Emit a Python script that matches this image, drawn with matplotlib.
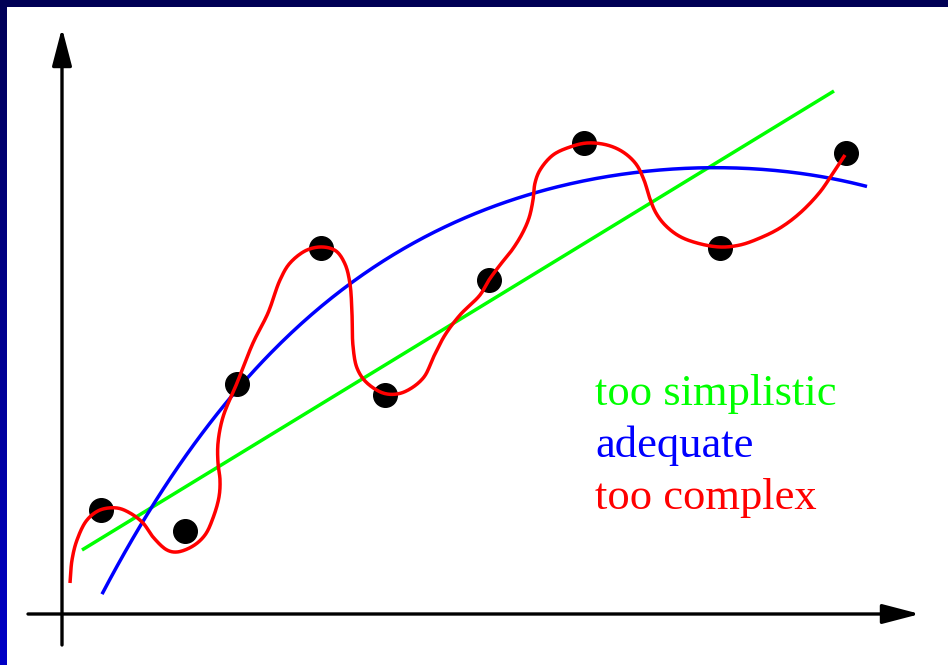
import numpy as np
import matplotlib.pyplot as plt
from matplotlib.patches import Rectangle

# observations (x to the right of the origin, y above it)
obs_x = [39, 123, 175, 259, 323, 427, 522, 658, 784]
obs_y = [104, 83, 230, 366, 219, 334, 471, 366, 461]

# too simplistic: straight line
lin_x = [20, 772]
lin_y = [64, 523]

# adequate: smooth curve
adq_x = [40, 78, 108, 118, 175, 238, 298, 348, 458, 525, 578, 641, 678, 758, 805]
adq_y = [20, 87, 134, 149, 231, 287, 334, 369, 416, 436, 444, 446, 444, 436, 429]

# too complex: wiggly curve through every observation
cpx_x = [8, 10, 15, 25, 38, 55, 68, 81, 91, 105, 115, 131, 143, 151, 157, 158,
         156, 156, 161, 175, 191, 206, 218, 228, 245, 261, 274, 283, 288, 290,
         291, 295, 304, 321, 335, 348, 362, 372, 383, 398, 418, 427, 438, 450,
         460, 467, 471, 473, 478, 491, 508, 525, 545, 561, 574, 582, 588, 594,
         603, 617, 635, 658, 678, 698, 718, 738, 758, 771, 783]
cpx_y = [31, 54, 74, 94, 104, 106, 101, 91, 77, 64, 62, 68, 79, 96, 117, 134,
         151, 171, 197, 231, 271, 301, 334, 351, 364, 367, 363, 350, 330, 300,
         268, 246, 232, 221, 220, 225, 237, 258, 279, 299, 319, 334, 349, 364,
         380, 396, 414, 431, 444, 459, 467, 471, 469, 462, 450, 434, 415, 401,
         389, 378, 371, 367, 369, 376, 386, 401, 422, 441, 459]

labels = ['too simplistic', 'adequate', 'too complex']
colors = ['#00ff00', '#0000ff', '#ff0000']


def catmull_rom(xs, ys, n=16, alpha=0.5):
    # centripetal Catmull-Rom through the given points
    p = np.column_stack([xs, ys]).astype(float)
    p = np.vstack([2 * p[0] - p[1], p, 2 * p[-1] - p[-2]])
    out = []
    for i in range(1, len(p) - 2):
        p0, p1, p2, p3 = p[i - 1], p[i], p[i + 1], p[i + 2]
        t0 = 0.0
        t1 = t0 + np.linalg.norm(p1 - p0) ** alpha
        t2 = t1 + np.linalg.norm(p2 - p1) ** alpha
        t3 = t2 + np.linalg.norm(p3 - p2) ** alpha
        t = np.linspace(t1, t2, n, endpoint=False)[:, None]
        a1 = (t1 - t) / (t1 - t0) * p0 + (t - t0) / (t1 - t0) * p1
        a2 = (t2 - t) / (t2 - t1) * p1 + (t - t1) / (t2 - t1) * p2
        a3 = (t3 - t) / (t3 - t2) * p2 + (t - t2) / (t3 - t2) * p3
        b1 = (t2 - t) / (t2 - t0) * a1 + (t - t0) / (t2 - t0) * a2
        b2 = (t3 - t) / (t3 - t1) * a2 + (t - t1) / (t3 - t1) * a3
        out.append((t2 - t) / (t2 - t1) * b1 + (t - t1) / (t2 - t1) * b2)
    out.append(p[-2][None])
    s = np.vstack(out)
    return s[:, 0], s[:, 1]


fig = plt.figure(figsize=(9.48, 6.65), dpi=100)
ax = fig.add_axes([0, 0, 1, 1])
ax.set_xlim(-62, 886)
ax.set_ylim(-51, 614)
ax.axis('off')

# axes with arrow heads
arrow = dict(arrowstyle='-|>,head_length=1.15,head_width=0.3', mutation_scale=20,
             lw=2.4, color='black', shrinkA=0, shrinkB=0)
ax.annotate('', xy=(858, 0), xytext=(-34, 0), arrowprops=arrow)
ax.annotate('', xy=(0, 586), xytext=(0, -31), arrowprops=arrow)

ax.plot(lin_x, lin_y, color=colors[0], lw=2.5, solid_capstyle='butt')

coef = np.polyfit(adq_x, adq_y, 4)
xx = np.linspace(adq_x[0], adq_x[-1], 300)
ax.plot(xx, np.polyval(coef, xx), color=colors[1], lw=2.5, solid_capstyle='butt')

ax.plot(obs_x, obs_y, 'o', color='black', ms=17, zorder=3)

rx, ry = catmull_rom(cpx_x, cpx_y)
ax.plot(rx, ry, color=colors[2], lw=2.5, zorder=4, solid_capstyle='butt')

for i, (lab, c) in enumerate(zip(labels, colors)):
    ax.text(533, 209 - 52 * i, lab, color=c, fontsize=32,
            family='Liberation Serif', va='baseline', ha='left')

# frame: dark top band and shaded left band
fig.patches.append(Rectangle((0, 1 - 7 / 665), 1, 7 / 665, transform=fig.transFigure,
                             facecolor='#000055', edgecolor='none', zorder=5))
band = fig.add_axes([0, 0, 7 / 948, 1])
grad = np.linspace(0, 1, 256)[:, None]
band.imshow(np.dstack([np.zeros_like(grad), np.zeros_like(grad),
                       0.34 + 0.44 * grad]), aspect='auto', origin='upper')
band.axis('off')

fig.savefig('out.png', dpi=100)
